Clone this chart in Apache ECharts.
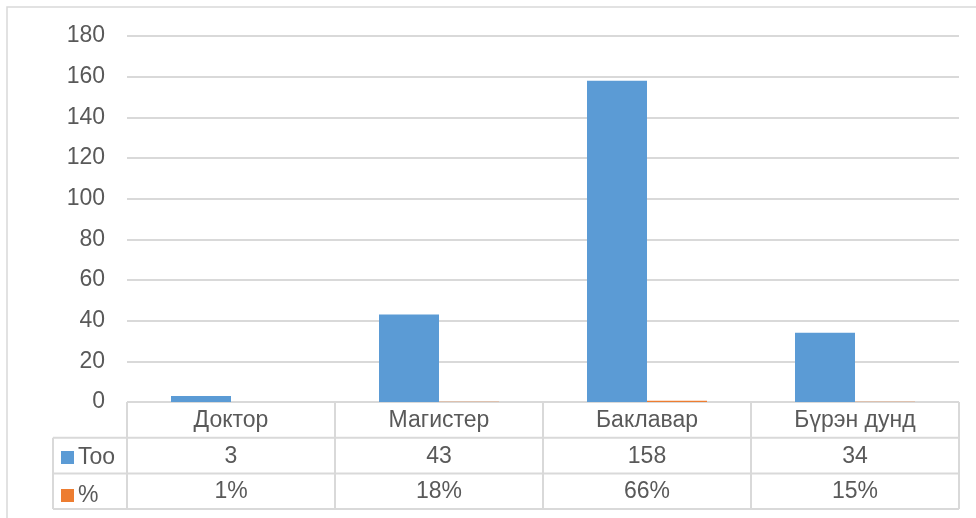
<!DOCTYPE html>
<html>
<head>
<meta charset="utf-8">
<script src="https://cdn.jsdelivr.net/npm/echarts@6/dist/echarts.min.js"></script>
<style>
  html, body { margin: 0; padding: 0; background: #fff; }
  #main { width: 976px; height: 518px; }
</style>
</head>
<body>
<div id="main"></div>
<script>
var categories = ['Доктор', 'Магистер', 'Баклавар', 'Бүрэн дунд'];
var countValues = [3, 43, 158, 34];
var percentValues = [0.01, 0.18, 0.66, 0.15];
var seriesNames = ['Too', '%'];

// layout of the plot and the data table under it
var LEFT = 127, RIGHT = 959, TOP = 36, AXIS_Y = 402;
var ROW_H = 35.7;
var LEGEND_X = 53;
var FONT = 'Liberation Sans, Arial, sans-serif';
var FS = 23;
var TEXT = '#595959';
var LINE = '#d9d9d9';

var pctLabels = percentValues.map(function(v) { return Math.round(v * 100) + '%'; });
var countLabels = countValues.map(String);

function hline(x1, x2, y) {
    return { type: 'line', silent: true, shape: { x1: x1, y1: y, x2: x2, y2: y }, style: { stroke: LINE, lineWidth: 2 } };
}
function vline(x, y1, y2) {
    return { type: 'line', silent: true, shape: { x1: x, y1: y1, x2: x, y2: y2 }, style: { stroke: LINE, lineWidth: 2 } };
}

var tableLines = [];
var bottom = AXIS_Y + 3 * ROW_H;
tableLines.push(hline(LEFT, RIGHT, AXIS_Y));
tableLines.push(hline(LEGEND_X, RIGHT, AXIS_Y + ROW_H));
tableLines.push(hline(LEGEND_X, RIGHT, AXIS_Y + 2 * ROW_H));
tableLines.push(hline(LEGEND_X, RIGHT, bottom));
tableLines.push(vline(LEGEND_X, AXIS_Y + ROW_H, bottom));
var colW = (RIGHT - LEFT) / categories.length;
for (var i = 0; i <= categories.length; i++) {
    tableLines.push(vline(LEFT + i * colW, AXIS_Y, bottom));
}
tableLines.push({
    type: 'rect', silent: true,
    shape: { x: 7, y: 7, width: 990, height: 530 },
    style: { fill: 'none', stroke: LINE, lineWidth: 1.5 }
});

function tableAxis(data, offset) {
    return {
        type: 'category',
        data: data,
        position: 'bottom',
        offset: offset,
        axisLine: { show: false },
        axisTick: { show: false },
        axisLabel: { color: TEXT, fontSize: FS, fontFamily: FONT, margin: 7, interval: 0 }
    };
}

var chart = echarts.init(document.getElementById('main'));
chart.setOption({
    animation: false,
    backgroundColor: '#fff',
    grid: { left: LEFT, right: 976 - RIGHT, top: TOP, bottom: 518 - AXIS_Y },
    legend: {
        orient: 'vertical',
        left: 56,
        top: 441,
        itemWidth: 13,
        itemHeight: 13,
        itemGap: 15,
        icon: 'rect',
        data: seriesNames,
        textStyle: { color: TEXT, fontSize: FS, fontFamily: FONT, lineHeight: 23, padding: [0, 0, 0, -1] }
    },
    xAxis: [
        tableAxis(categories, 0),
        tableAxis(countLabels, ROW_H),
        tableAxis(pctLabels, 2 * ROW_H)
    ],
    yAxis: {
        type: 'value',
        min: 0,
        max: 180,
        interval: 20,
        axisLine: { show: false },
        axisTick: { show: false },
        axisLabel: { color: TEXT, fontSize: FS, fontFamily: FONT, margin: 22 },
        splitLine: { lineStyle: { color: LINE, width: 2 } }
    },
    series: [
        {
            name: seriesNames[0], type: 'bar', data: countValues,
            barWidth: 60, barGap: '0%',
            itemStyle: { color: '#5b9bd5' }
        },
        {
            name: seriesNames[1], type: 'bar', data: percentValues,
            barWidth: 60,
            itemStyle: { color: '#ed7d31' }
        }
    ],
    graphic: tableLines
});
</script>
</body>
</html>
